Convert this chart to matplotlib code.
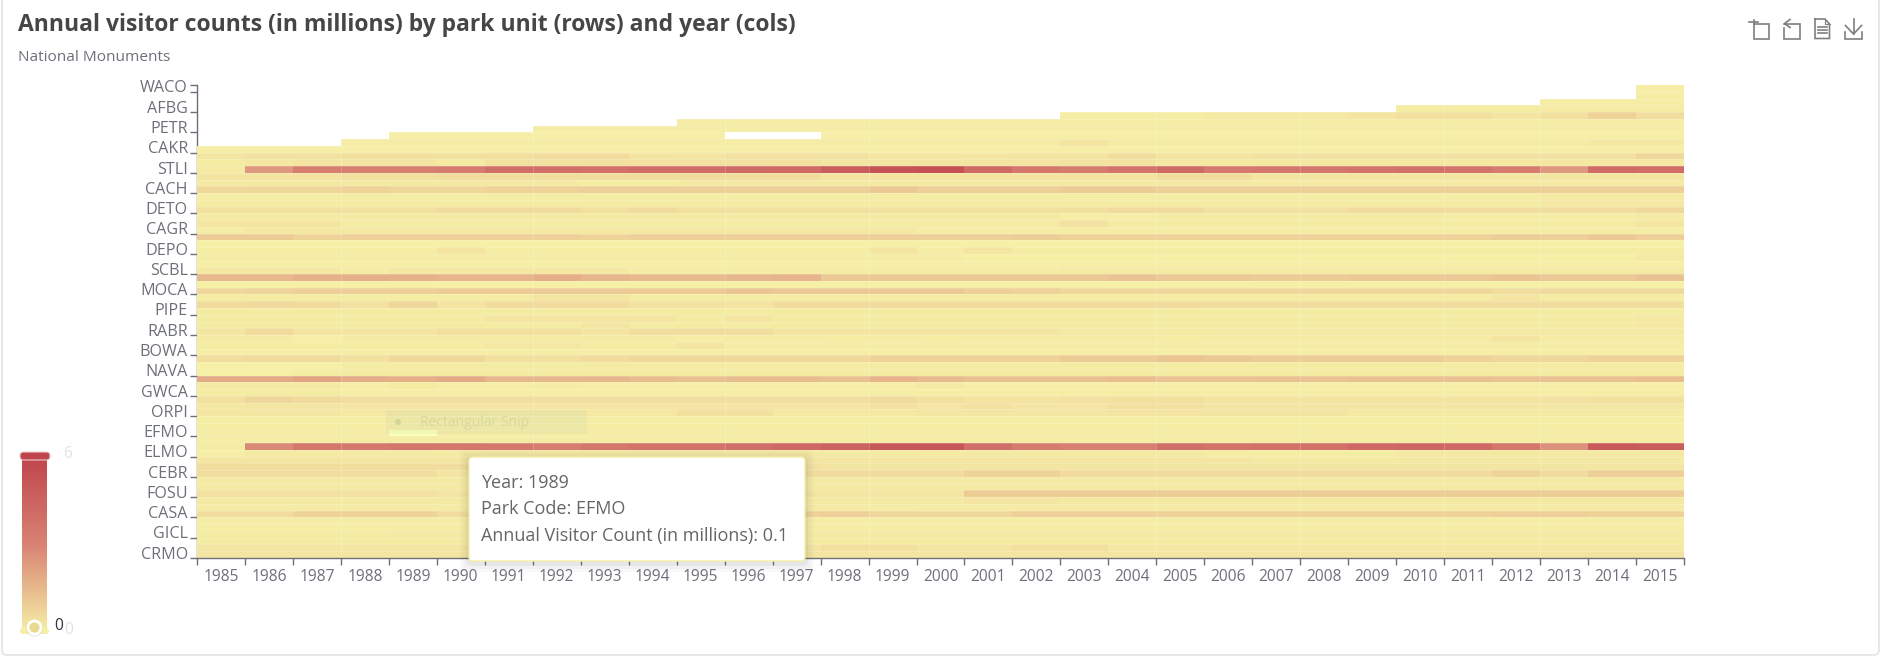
import numpy as np
import matplotlib
matplotlib.use("Agg")
import matplotlib.pyplot as plt
from matplotlib.colors import LinearSegmentedColormap
from matplotlib.patches import FancyBboxPatch, Rectangle, Circle
from matplotlib.lines import Line2D

plt.rcParams['font.family'] = ['Open Sans', 'DejaVu Sans']

W, H = 1885, 656
title = "Annual visitor counts (in millions) by park unit (rows) and year (cols)"
subtitle = "National Monuments"
years = list(range(1985, 2016))
park_labels = ["WACO", "AFBG", "PETR", "CAKR", "STLI", "CACH", "DETO", "CAGR", "DEPO", "SCBL", "MOCA", "PIPE",
               "RABR", "BOWA", "NAVA", "GWCA", "ORPI", "EFMO", "ELMO", "CEBR", "FOSU", "CASA", "GICL", "CRMO"]
vmin, vmax = 0, 6
colors = ['#f6efa6', '#d88273', '#bf444c']
hover_year, hover_row = 1989, 51

_ = float('nan')
# rows listed top to bottom, visitor counts in millions
rows_a = [
    [_]*30+[.04],
    [_]*30+[.05],
    [_]*28+[.07]*3,
    [_]*25+[.1]*3+[.13]*3,
    [_]*18+[.04]*3+[.15]*3+[.24]+[.42]*2+[.24]+[.42]+[.8]+[.48],
    [_]*10+[.09]*21,
    [_]*7+[.09]*24,
    [_]*4+[.04]*7+[_]*2+[.04]*18,
    [_]*3+[.08]*15+[.24]+[.1]*10+[.2]*2,
    [.03]*31,
    [.28]+[.38]*2+[.42]*4+[.52]*2+[.32]+[.24]+[.38]*3+[.28]*2+[.24]+[.32]*2+[.48]+[.32]*2+[.38]*8+[.65],
    [.1]+[.2]+[.24]*3+[.15]+[.38]*7+[.28]*2+[.24]+[.32]*4+[.2]*11,
    [.15, 2.4, 3.2, 3.2, 3.1, 3.3, 3.9, 3.9, 3.8, 4.0, 4.0, 4.1, 4.2, 4.8, 5.3, 5.4, 4.2, 3.5, 3.3, 3.7, 4.1, 3.4,
     3.6, 3.6, 3.7, 3.8, 3.7, 3.3, 2.4, 4.1, 4.0],
    [.32]*3+[.42]*2+[.48]*8+[.32]*7+[.48]*2+[.28]*9,
    [.15]*8+[.07]*2+[.15]*21,
    [.65]+[.7]*2+[.8]+[.7]*2+[.8]*2+[.9]*6+[1.05]+[.9]*3+[1.0]*2+[.9]*11,
    [.08]*28+[.15]*3,
    [.1]*28+[.2]*3,
    [.42]*5+[.58]*3+[.42]+[.58]+[.42]*9+[.58]*2+[.38]*3+[.52]*2+[.48]*4+[.65],
    [.15]*18+[.03]*2+[.1]*6+[.05]*4+[.15],
    [.24]*3+[.1]*15+[.38]+[.1]*11+[.24],
    [.08]+[.2]*14+[.09]*16,
    [1.0]*2+[.75]+[.85]*5+[.75]+[.9]*8+[.95]+[.8]*9+[.95]+[.9]+[1.1]+[.9],
    [.02]*31,
    [.07]*5+[.24]+[.07]*8+[.24]+[.08]+[.24]+[.1]*14,
]
rows_b = [
    [.08]*16+[.02]*14+[.15],
    [.03]*31,
    [.2]*3+[.07]+[.2]*5+[.07]*9+[.15]*13,
    [1.5, 1.5, 1.7, 1.75, 1.7, 1.6, 1.6, 1.8, 1.55, 1.45, 1.45, 1.55, 1.65, 1.05, 1.05, 1.1, 1.05, 1.1, 1.05, 1.2,
     1.1, 1.1, 1.0, 1.0, 1.05, 1.1, 1.1, 1.15, 1.1, 1.1, 1.25],
    [.02]*31,
    [.65]+[.75]+[.9]*3+[1.0]*6+[1.15]+[1.05]*4+[.9]+[.8]+[.65]*9+[.48]+[.58]*3,
    [.1]*7+[.24]*2+[.1]*18+[.24]+[.1]*3,
    [.52, .62, .52, .38, .7, .32]+[.52]*3+[.38]*2+[.32]+[.52]*9+[.48]*10,
    [.1]*31,
    [.1]*6+[.24]*4+[.1]+[.24]+[.1]*18+[.2],
    [.1]*8+[.28]+[.1]*21+[.2],
    [.28, .52, .32, .24, .24]+[.42]*3+[.24]+[.48]*3+[.24]*5+[.28]+[.15]*13,
    [.13]*2+[.03]+[.13]*7+[.03]+[.13]*2+[.07]+[.13]+[.07]+[.13]*4+[.05]+[.13]*6+[.24]+[.13]*3,
    [.1]*6+[.22]*2+[.1]*2+[.24]+[.08]*20,
    [.04]*31,
    [.48, .58, .58, .42, .65, .65, .42, .42, .52, .65, .65, .65, .65, .65]+[.8]*4+[1.0]*2+[1.15]+[1.05]+[.95]*4+[.8]+[.7]*2+[.8]*2,
    [.02]*3+[.1]*28,
    [.02]*2+[.07]+[.1]*28,
    [1.9, 1.9, 2.1, 1.85, 1.75, 1.9, 1.5, 1.55, 1.55, 1.4, 1.3, 1.4, 1.4, 1.3, 1.65, 1.45, 1.3, 1.3, 1.3, 1.35, 1.2,
     1.2, 1.25, 1.2, 1.3, 1.25, 1.3, 1.2, 1.25, 1.25, 1.35],
    [.15]*3+[.03]+[.1]+[.03]*2+[.08]+[.03]*7+[.15]+[.03]*15,
    [.1]*3+[.03]*28,
    [.42, .7, .58]+[.48]*11+[.58]+[.42]+[.32]*2+[.38]+[.42]*2+[.32]*7+[.38]+[.42]*2,
]
rows_c = [
    [.2]+[.28]*2+[.24]*11+[.38]+[.24]+[.38]+[.24]*2+[.42]+[.38]+[.28]*10,
    [.24]*3+[.2]*7+[.42]*2+[.2]*3+[.28]*4+[.32]*5+[.15]*7,
    [.05]*31,
    [.05]*31,
    [.08]*4+[.1]+[.08]*26,
    [.08]*31,
    [.1, 2.8, 3.5, 3.4, 3.6, 3.5, 3.4, 3.2, 3.5, 3.7, 3.7, 3.9, 4.2, 4.5, 5.0, 5.1, 3.9, 3.3, 3.1, 3.1, 3.9, 3.7,
     3.8, 3.8, 4.2, 4.3, 4.2, 3.5, 2.6, 4.9, 4.8],
    [.03]+[.15]*20+[.05]*4+[.17]*6,
    [.24]*22+[.17]*9,
    [.48]*6+[.38]*7+[.28]*18,
    [.48]*5+[.24]+[.52]*10+[.8]*2+[.52]*9+[.75]+[.52]+[.9]*2,
    [.15]*31,
    [.15]*31,
    [.38]*5+[.28]*11+[.95]*15,
    [.15]*16+[.24]*2+[.17]*13,
    [.13]*31,
    [.52]*2+[.8]*3+[.52]+[.8]*7+[.9]+[.7]+[.65]*2+[.9]*3+[.8]*7+[.9]*2+[.8]*2,
    [.08]*31,
    [.07]*31,
    [.1]*4+[.15]*27,
    [.1]*31,
    [.28]*5+[.24]*8+[.42]*2+[.24]*2+[.42]*2+[.2]*12,
    [.28]*29+[.35]*2,
]
values = np.array(rows_a + rows_b + rows_c, dtype=float)
assert values.shape == (70, 31)

AXC = '#6E7079'
cmap = LinearSegmentedColormap.from_list('vm', colors)

fig = plt.figure(figsize=(W/100, H/100), dpi=100, facecolor='white')
ax = fig.add_axes([197/W, (H-558)/H, (1684-197)/W, (558-85)/H], facecolor='none')

n_rows, n_cols = values.shape
grid = np.ma.masked_invalid(values[::-1])
ax.pcolormesh(np.arange(n_cols+1), np.arange(n_rows+1), grid, cmap=cmap, vmin=vmin, vmax=vmax,
              edgecolors='none', antialiased=False, zorder=3)
# faint rendering seams between cells
ax.hlines(np.arange(1, n_rows), 0.03, n_cols, color='white', lw=0.6, alpha=0.22, zorder=3.5)
ax.vlines([3, 7, 11, 14, 20, 23, 26, 28], 0, n_rows, color='white', lw=0.7, alpha=0.2, zorder=3.5)
ax.set_xlim(0, n_cols)
ax.set_ylim(0, n_rows)
for s in ('top', 'right'):
    ax.spines[s].set_visible(False)
for s in ('left', 'bottom'):
    ax.spines[s].set_color(AXC)
    ax.spines[s].set_linewidth(1)
    ax.spines[s].set_zorder(2)
ax.spines['bottom'].set_zorder(4)

ax.set_xticks(np.arange(n_cols+1))
ax.set_xticklabels([])
ax.set_xticks(np.arange(n_cols)+0.5, [str(y) for y in years], minor=True)
ax.tick_params(axis='x', which='major', length=5, width=1, color=AXC)
ax.tick_params(axis='x', which='minor', length=0, pad=8, labelsize=11.2, labelcolor=AXC)

label_rows = np.arange(n_rows-1, -1, -3)
ax.set_yticks(list(label_rows)+[n_rows])
ax.set_yticklabels([])
ax.set_yticks(label_rows+0.78, park_labels, minor=True)
ax.tick_params(axis='y', which='major', length=5, width=1, color=AXC)
ax.tick_params(axis='y', which='minor', length=0, pad=6.5, labelsize=11.6, labelcolor=AXC)

# hovered cell highlight
ax.add_patch(Rectangle((years.index(hover_year), n_rows-1-hover_row), 1, 1, facecolor='#fbffb6', edgecolor='none', zorder=4))

# visual map bar
cb = fig.add_axes([22/W, (H-632)/H, 25/W, (632-455)/H])
cb.imshow(np.linspace(vmax, vmin, 256)[:, None], aspect='auto', cmap=cmap, vmin=vmin, vmax=vmax)
cb.axis('off')

# overlay in pixel coordinates
ov = fig.add_axes([0, 0, 1, 1], facecolor='none')
ov.set_zorder(10)
ov.set_xlim(0, W)
ov.set_ylim(H, 0)
ov.axis('off')

# card border
ov.add_patch(FancyBboxPatch((2, -10), 1877, 665, boxstyle='round,pad=0,rounding_size=5', fc='none', ec='#e3e3e3', lw=1.2, clip_on=True))

ov.text(18, 25, title, fontsize=16.5, fontweight='bold', color='#464646', ha='left', va='center')
ov.text(18, 57.5, subtitle, fontsize=11.1, color=AXC, ha='left', va='center')

# ghost of the snipping tool
ov.add_patch(Rectangle((386, 410), 201, 24, fc='#b8c8a8', ec='none', alpha=0.14, zorder=5))
ov.add_patch(Circle((398, 422), 3, fc='#cfd196', ec='none', alpha=0.8, zorder=5))
ov.text(420, 423, 'Rectangular Snip', fontsize=10, color='#d8d8a0', ha='left', va='center', zorder=5)

# tooltip
for grow, a in ((9, .03), (6, .04), (3, .06)):
    ov.add_patch(FancyBboxPatch((469-grow, 457-grow+2), 336+2*grow, 104+2*grow, boxstyle='round,pad=0,rounding_size=6',
                                fc='#444444', ec='none', alpha=a, zorder=6))
ov.add_patch(FancyBboxPatch((469, 457), 336, 104, boxstyle='round,pad=0,rounding_size=4', fc='white', ec='#f6efa6',
                            lw=1, zorder=7))
tip = [f"Year: {hover_year}", "Park Code: EFMO", "Annual Visitor Count (in millions): 0.1"]
for y, t in zip((483, 509.5, 535.5), tip):
    ov.text(481, y, t, fontsize=13, color='#666666', ha='left', va='center', zorder=8)

# visual map handles and labels
ov.add_patch(FancyBboxPatch((20, 452), 30, 8, boxstyle='round,pad=0,rounding_size=3.5', fc='#bf444c', ec='#eecaca', lw=.8, zorder=3))
ov.add_patch(FancyBboxPatch((20, 628), 29, 6, boxstyle='round,pad=0,rounding_size=3', fc='#f6efa6', ec='none', zorder=3))
ov.add_patch(Circle((34.5, 628.5), 8.5, fc='#888888', ec='none', alpha=.15, zorder=3))
ov.add_patch(Circle((34.5, 627.5), 6.5, fc='#e9d88f', ec='white', lw=2, zorder=4))
ov.text(68, 454.5, str(vmax), fontsize=11.2, color='#e2e2e2', ha='center', va='center')
ov.text(69, 630, str(vmin), fontsize=11.2, color='#e2e2e2', ha='center', va='center')
ov.text(58.5, 626.5, str(vmin), fontsize=11.2, color='#333333', ha='center', va='center', zorder=4)

# toolbox icons
IC = '#7f7f7f'
def poly(pts, lw=1.2):
    ov.add_line(Line2D([p[0] for p in pts], [p[1] for p in pts], color=IC, lw=lw, solid_joinstyle='miter'))
poly([(1754, 23.5), (1769, 23.5), (1769, 38.5), (1754, 38.5), (1754, 19.5)])
poly([(1749, 22), (1758, 22)])
poly([(1784, 23.5), (1800, 23.5), (1800, 38.5), (1784, 38.5), (1784, 28)])
poly([(1790, 19.5), (1784.5, 23.5), (1790, 27.5)])
poly([(1815, 19), (1825, 19), (1829.5, 24), (1829.5, 38.5), (1815, 38.5), (1815, 19)])
poly([(1825, 19), (1825, 24), (1829.5, 24)], lw=.8)
poly([(1818, 27), (1826.5, 27)]); poly([(1818, 30), (1826.5, 30)]); poly([(1818, 33), (1826.5, 33)])
poly([(1844.5, 32), (1844.5, 38.5), (1862, 38.5), (1862, 32)])
poly([(1853.5, 19), (1853.5, 34)])
poly([(1845.5, 25.5), (1853.5, 34), (1861.5, 25.5)])

fig.savefig('out.png', dpi=100, facecolor='white')
